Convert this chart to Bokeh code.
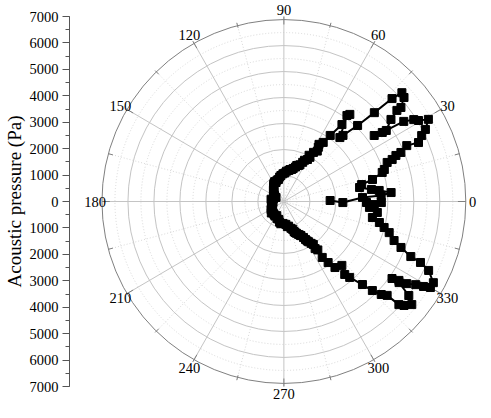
import numpy as np
from bokeh.plotting import figure
from bokeh.models import Range1d, LinearAxis, FixedTicker, CustomJSTickFormatter, ColumnDataSource
from bokeh.core.properties import value
from bokeh.embed import file_html
from bokeh.resources import INLINE

# ---- data: measurement angle (deg) and acoustic pressure (Pa), in trace order ----
angle_deg = [
    1.2, 359.0, 2.9, 3.5, 4.7, 6.5, 7.7, 10.3, 12.1, 13.7, 16.2, 17.4, 20.4, 20.9, 22.0, 22.4,
    24.1, 23.3, 25.2, 26.6, 29.2, 30.6, 31.8, 33.3, 34.6, 35.7, 34.3, 37.0, 38.4, 38.3, 40.4,
    42.2, 43.1, 44.0, 45.4, 47.7, 48.3, 53.3, 52.4, 52.5, 54.5, 55.9, 58.0, 57.1, 56.0, 58.5,
    61.0, 59.0, 60.3, 63.0, 64.0, 66.0, 67.4, 70.0, 71.0, 74.0, 76.0, 79.0, 80.8, 85.0, 88.0,
    92.0, 96.6, 100.0, 104.0, 108.0, 112.8, 115.0, 118.0, 121.0, 122.0, 126.0, 130.0, 134.0,
    138.0, 142.0, 145.0, 150.0, 153.0, 160.0, 165.0, 170.0, 175.0, 180.0, 185.0, 192.0, 200.0,
    205.0, 211.6, 216.0, 222.0, 227.0, 232.4, 238.0, 243.0, 248.0, 254.5, 258.0, 262.0, 268.0,
    275.0, 278.0, 281.0, 285.0, 287.8, 289.0, 290.0, 292.0, 294.4, 296.0, 297.0, 299.0, 300.1,
    301.0, 302.0, 303.5, 304.9, 304.0, 305.5, 304.9, 306.4, 308.2, 312.7, 310.3,
    311.4, 313.9, 315.3, 316.8, 318.2, 318.6, 319.6, 321.6, 323.5, 325.3, 325.0, 326.0, 326.7,
    328.2, 329.1, 330.0, 331.9, 334.9, 336.3, 336.9, 338.9, 340.8, 343.8, 345.7, 347.8, 349.9,
    353.4, 356.1, 359.3, 358.1, 359.4,
]
pressure_pa = [
    1780, 2270, 3030, 3750, 4140, 3690, 3400, 2960, 3060, 3510, 3940, 4050, 4240, 4460, 4650, 4870,
    5180, 5640, 5860, 6090, 6370, 6020, 5880, 5520, 4600, 4280, 4770, 5160, 5550, 5740, 6070,
    6130, 5700, 4840, 4040, 3380, 3240, 4060, 4160, 3670, 3070, 2700, 2550, 2440, 2300, 2180,
    2000, 1950, 1830, 1750, 1650, 1520, 1480, 1450, 1380, 1300, 1250, 1230, 1190, 1150, 1080,
    1050, 990, 940, 860, 850, 780, 830, 800, 760, 710, 680, 620, 580,
    510, 500, 450, 420, 340, 400, 420, 500, 480, 450, 420, 480, 460,
    530, 580, 560, 650, 600, 620, 650, 600, 700, 710, 800, 850, 830,
    870, 960, 950, 1050, 1110, 1200, 1250, 1300, 1370, 1420, 1450, 1560, 1660,
    1740, 1800, 1900, 1980, 2150, 2250, 2580, 2870, 3180, 3290, 3620,
    3830, 4360, 4790, 5140, 5330, 5900, 6070, 6280, 5980, 5390, 5080, 5340, 5660,
    5970, 6260, 6510, 6520, 6150, 5740, 5310, 4830, 4490, 4220, 3980, 3760, 3460,
    3620, 3300, 3180, 3480, 3750,
]

r_max = 7000
ring_major = [1000, 2000, 3000, 4000, 5000, 6000]
ring_minor = [500, 1500, 2500, 3500, 4500, 5500, 6500]
angle_major = [0, 30, 60, 90, 120, 150, 180, 210, 240, 270, 300, 330]
angle_labels = ["0", "30", "60", "90", "120", "150", "180", "210", "240", "270", "300", "330"]
angle_minor = [15, 45, 75, 105, 135, 165, 195, 225, 255, 285, 315, 345]
radial_ticks = list(range(-7000, 7001, 1000))
radial_minor = list(range(-7000, 7001, 500))

# ---- layout ----
PX = 7000 / 185.0          # Pa per pixel
W, H = 483, 402
LEFT = 62                  # space for the pressure axis
CX = 218                   # polar centre, px from frame left
CY = 201                   # polar centre, px from frame top
FW = W - LEFT

p = figure(width=W, height=H, output_backend="svg", toolbar_location=None,
           x_range=Range1d(-CX * PX, (FW - CX) * PX),
           y_range=Range1d(-(H - CY) * PX, CY * PX),
           x_axis_type=None, y_axis_type=None,
           min_border_left=LEFT, min_border_right=0, min_border_top=0, min_border_bottom=0)
p.outline_line_color = None
p.background_fill_color = "white"
p.border_fill_color = "white"

# ---- polar grid ----
n1 = len(ring_minor)
p.circle(x=[0] * n1, y=[0] * n1, radius=ring_minor, fill_color=None,
         line_color="#d9d9d9", line_width=1, line_dash="1 2")
n2 = len(ring_major)
p.circle(x=[0] * n2, y=[0] * n2, radius=ring_major, fill_color=None,
         line_color="#c4c4c4", line_width=1)

am = np.radians(angle_minor)
p.segment(x0=0, y0=0, x1=r_max * np.cos(am), y1=r_max * np.sin(am),
          line_color="#d9d9d9", line_width=1, line_dash="1 2")
aM = np.radians(angle_major)
p.segment(x0=0, y0=0, x1=r_max * np.cos(aM), y1=r_max * np.sin(aM),
          line_color="#c4c4c4", line_width=1)

# outer circle and angular ticks
p.circle(x=[0], y=[0], radius=[r_max], fill_color=None, line_color="#808080", line_width=1)
t_in = r_max - 8 * PX
p.segment(x0=t_in * np.cos(aM), y0=t_in * np.sin(aM), x1=r_max * np.cos(aM), y1=r_max * np.sin(aM),
          line_color="#808080", line_width=1)
t_in2 = r_max - 5 * PX
p.segment(x0=t_in2 * np.cos(am), y0=t_in2 * np.sin(am), x1=r_max * np.cos(am), y1=r_max * np.sin(am),
          line_color="#808080", line_width=1)

# angle labels
r_lab = 192 * PX
lab_src = ColumnDataSource(dict(x=r_lab * np.cos(aM), y=r_lab * np.sin(aM), t=angle_labels))
p.text(x="x", y="y", text="t", source=lab_src, text_align="center", text_baseline="middle",
       text_font=value("Liberation Serif"), text_font_size="14.5px", text_color="black")

# ---- data ----
th = np.radians(np.array(angle_deg))
rr = np.array(pressure_pa, dtype=float)
src = ColumnDataSource(dict(x=rr * np.cos(th), y=rr * np.sin(th)))
p.line(x="x", y="y", source=src, line_color="black", line_width=2)
p.scatter(x="x", y="y", source=src, marker="square", size=8, fill_color="black", line_color="black")

# ---- pressure axis on the left ----
ax = LinearAxis(bounds=(-7000, 7000),
                ticker=FixedTicker(ticks=radial_ticks, minor_ticks=radial_minor),
                formatter=CustomJSTickFormatter(code="return Math.abs(tick).toString();"),
                axis_label="Acoustic pressure (Pa)",
                axis_label_text_font="Liberation Serif", axis_label_text_font_size="19px",
                axis_label_text_font_style="normal", axis_label_standoff=2,
                axis_label_text_color="black",
                major_label_text_font="Liberation Serif", major_label_text_font_size="14.5px",
                major_label_text_color="black",
                major_label_standoff=4,
                major_tick_out=7, major_tick_in=0, minor_tick_out=4, minor_tick_in=0,
                axis_line_color="#555555", major_tick_line_color="#555555",
                minor_tick_line_color="#555555")
p.add_layout(ax, "left")

open("out.html", "w").write(file_html(p, INLINE))
